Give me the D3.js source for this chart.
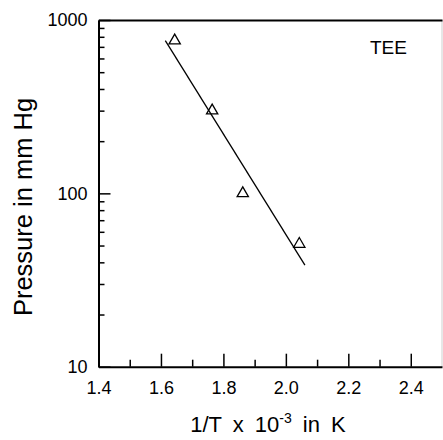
<!DOCTYPE html>
<html>
<head>
<meta charset="utf-8">
<script src="https://cdn.jsdelivr.net/npm/d3@7"></script>
<style>
  body { margin: 0; background: #fff; }
  svg text { font-family: "Liberation Sans", Arial, Helvetica, sans-serif; fill: #000; }
</style>
</head>
<body>
<div id="chart"></div>
<script>
// data
var invT = [1.644, 1.764, 1.862, 2.043];        // 1/T x 10^-3
var pressure = [760, 300, 100, 51];              // mm Hg
var fitX = [1.614, 2.061];                       // fitted line ends
var fitY = [760, 38.5];
var xMajor = [1.4, 1.6, 1.8, 2.0, 2.2, 2.4];
var xMinor = [1.5, 1.7, 1.9, 2.1, 2.3];
var yMajor = [10, 100, 1000];
var yMinor = [20, 30, 40, 50, 60, 70, 80, 90, 200, 300, 400, 500, 600, 700, 800, 900];
var seriesName = "TEE";

var width = 443, height = 440;
var margin = { top: 20, right: 1, bottom: 73.3, left: 98.5 };
var w = width - margin.left - margin.right;
var h = height - margin.top - margin.bottom;

var svg = d3.select("#chart")
    .append("svg")
    .attr("width", width)
    .attr("height", height);

var g = svg.append("g")
    .attr("transform", "translate(" + margin.left + "," + margin.top + ")");

var x = d3.scaleLinear().domain([1.4, 2.5]).range([0, w]);
var y = d3.scaleLog().domain([10, 1000]).range([h, 0]);

// right side frame, faint in the scan
g.append("line")
    .attr("x1", w).attr("x2", w)
    .attr("y1", 0).attr("y2", h)
    .attr("stroke", "#cfcfcf")
    .attr("stroke-width", 1);

// top frame line
g.append("g")
    .call(d3.axisTop(x).tickValues([]).tickSizeOuter(0))
    .select(".domain").attr("stroke-width", 2);

// y axis: major + minor ticks pointing inward
var yAx = g.append("g")
    .call(d3.axisLeft(y).tickValues(yMajor).tickFormat(d3.format("d"))
        .tickSize(-12).tickSizeOuter(0).tickPadding(11));
yAx.select(".domain").attr("stroke-width", 2);
yAx.selectAll("line").attr("stroke-width", 1.5);
yAx.selectAll("text").attr("font-size", 18);

var yMin = g.append("g")
    .call(d3.axisLeft(y).tickValues(yMinor).tickFormat("").tickSize(-6).tickSizeOuter(0));
yMin.select(".domain").remove();
yMin.selectAll("line").attr("stroke-width", 1.5);

// x axis
var xAx = g.append("g")
    .attr("transform", "translate(0," + h + ")")
    .call(d3.axisBottom(x).tickValues(xMajor).tickFormat(d3.format(".1f"))
        .tickSize(-13).tickSizeOuter(0).tickPadding(15));
xAx.select(".domain").attr("stroke-width", 2);
xAx.selectAll("line").attr("stroke-width", 1.5);
xAx.selectAll("text").attr("font-size", 18);

var xMin = g.append("g")
    .attr("transform", "translate(0," + h + ")")
    .call(d3.axisBottom(x).tickValues(xMinor).tickFormat("").tickSize(-7).tickSizeOuter(0));
xMin.select(".domain").remove();
xMin.selectAll("line").attr("stroke-width", 1.5);

// fitted line
var line = d3.line()
    .x(function(d) { return x(d[0]); })
    .y(function(d) { return y(d[1]); });

g.append("path")
    .datum(d3.zip(fitX, fitY))
    .attr("d", line)
    .attr("fill", "none")
    .attr("stroke", "#000")
    .attr("stroke-width", 1.3);

// open triangle markers
var tri = d3.symbol().type(d3.symbolTriangle).size(55);
g.selectAll(".pt")
    .data(d3.zip(invT, pressure))
    .enter().append("path")
    .attr("class", "pt")
    .attr("d", tri)
    .attr("transform", function(d) { return "translate(" + x(d[0]) + "," + y(d[1]) + ")"; })
    .attr("fill", "none")
    .attr("stroke", "#000")
    .attr("stroke-width", 1.3);

// series label
g.append("text")
    .attr("x", 271.5)
    .attr("y", 34.3)
    .attr("font-size", 19)
    .text(seriesName);

// y axis title
svg.append("text")
    .attr("transform", "translate(32," + 207 + ") rotate(-90)")
    .attr("text-anchor", "middle")
    .attr("font-size", 25.5)
    .text("Pressure in mm Hg");

// x axis title with superscript
var xt = svg.append("text")
    .attr("x", 268)
    .attr("y", 432)
    .attr("text-anchor", "middle")
    .attr("font-size", 22)
    .attr("word-spacing", 5);
xt.append("tspan").text("1/T x 10");
xt.append("tspan").attr("dy", -9).attr("font-size", 14).text("-3");
xt.append("tspan").attr("dy", 9).text(" in K");
</script>
</body>
</html>
